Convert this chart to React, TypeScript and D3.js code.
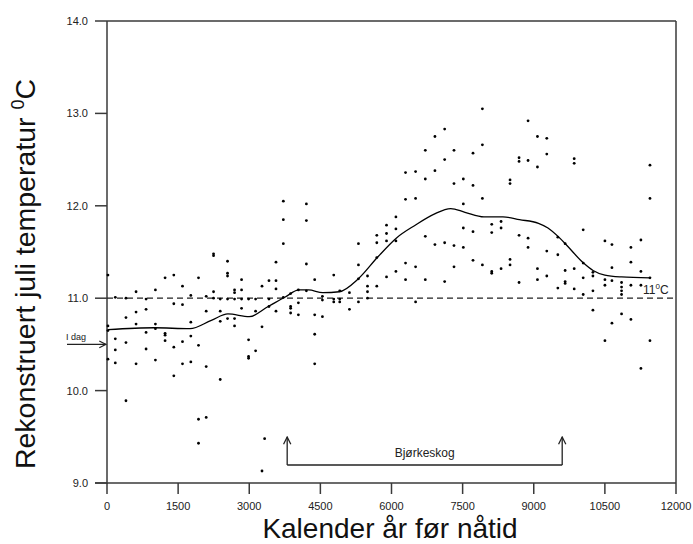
import * as d3 from 'd3';

const xTicks = [0, 1500, 3000, 4500, 6000, 7500, 9000, 10500, 12000];
const yTicks = [9, 10, 11, 12, 13, 14];

// sample columns: calendar year and reconstructed July temperatures at that level
const sampleYears = [
  20, 175, 400, 613, 824, 1021, 1225, 1409, 1592, 1768, 1930, 2092, 2247, 2388, 2542, 2690,
  2838, 2986, 3134, 3269, 3324, 3416, 3564, 3719, 3873, 4036, 4205, 4380, 4543, 4782, 4908,
  5113, 5303, 5494, 5690, 5895, 6093, 6296, 6508, 6713, 6916, 7121, 7318, 7515, 7719, 7917,
  8114, 8311, 8500, 8690, 8880, 9078, 9275, 9508, 9662, 9853, 10043, 10248, 10501, 10649,
  10852, 11049, 11260, 11451,
];
const sampleTemps = [
  [11.25, 10.7, 10.65, 10.34],
  [11.01, 10.56, 10.44, 10.3],
  [11.0, 10.79, 10.52, 9.89],
  [11.07, 10.85, 10.72, 10.29],
  [10.99, 10.88, 10.63, 10.45],
  [11.09, 10.72, 10.67, 10.33],
  [11.22, 10.62, 10.6, 10.54],
  [11.25, 10.94, 10.47, 10.16],
  [11.13, 10.93, 10.53, 10.29],
  [11.03, 10.74, 10.59, 10.31],
  [11.22, 10.49, 9.69, 9.43],
  [11.02, 10.86, 10.26, 9.71],
  [11.48, 11.46, 11.07, 11.0],
  [10.99, 10.86, 10.75, 10.12],
  [11.4, 11.27, 11.24, 10.99, 10.78],
  [11.09, 11.06, 10.99, 10.78, 10.7],
  [11.2, 11.09, 10.99, 10.89],
  [10.99, 10.55, 10.37, 10.35],
  [10.99, 10.86, 10.43],
  [11.13, 10.69, 9.13],
  [9.48],
  [11.19, 10.99, 10.91],
  [11.39, 11.19, 11.1, 10.86],
  [12.05, 11.85, 11.59, 11.01],
  [11.05, 10.91, 10.89, 10.84],
  [11.09, 10.95, 10.82],
  [12.02, 11.84, 11.37, 11.08],
  [11.2, 10.82, 10.61, 10.29],
  [11.02, 10.98, 10.8],
  [11.25, 10.99, 10.96],
  [11.08, 10.99, 10.96],
  [11.06, 10.88],
  [11.59, 11.36, 11.21, 10.96],
  [11.24, 11.13, 11.07, 11.0],
  [11.68, 11.6, 11.44, 11.13],
  [11.79, 11.7, 11.62, 11.23],
  [11.88, 11.75, 11.62, 11.29],
  [12.36, 12.07, 11.38, 11.2],
  [12.37, 12.08, 11.34, 10.96],
  [12.6, 12.29, 11.67, 11.2],
  [12.75, 12.38, 11.58],
  [12.83, 12.5, 11.6, 11.18],
  [12.6, 12.24, 11.57, 11.34],
  [12.29, 12.02, 11.76, 11.55],
  [12.57, 12.22, 11.72, 11.41],
  [13.05, 12.66, 12.08, 11.36],
  [11.8, 11.71, 11.29, 11.27],
  [11.83, 11.76, 11.32],
  [12.28, 12.24, 11.42, 11.36],
  [12.52, 12.48, 11.68, 11.17],
  [12.92, 12.49, 11.65, 11.55],
  [12.75, 12.42, 11.32, 11.2],
  [12.73, 12.56, 11.51, 11.24],
  [11.66, 11.47, 11.11],
  [11.59, 11.3, 11.18, 11.16],
  [12.51, 12.46, 11.32, 11.1],
  [11.74, 11.38, 11.22, 11.04],
  [11.28, 11.24, 11.08, 10.87],
  [11.62, 11.2, 11.14, 10.54],
  [11.58, 11.33, 11.19, 10.73],
  [11.17, 11.12, 11.08, 11.04, 10.83],
  [11.55, 11.39, 11.14, 10.77],
  [11.63, 11.29, 11.14, 10.24],
  [12.44, 12.08, 11.22, 10.54],
];

// smoothed curve
const curveYears = [
  20, 1000, 1750, 2200, 2550, 3000, 3400, 3750, 4050, 4250, 4550, 4900, 5300, 5700, 6100,
  6500, 6900, 7250, 7550, 7950, 8350, 8700, 9100, 9300, 9550, 9700, 10050, 10250, 10500,
  10850, 11450,
];
const curveTemps = [
  10.66, 10.68, 10.67, 10.76, 10.83, 10.8, 10.91, 11.01, 11.09, 11.09, 11.06, 11.07, 11.21,
  11.44, 11.65, 11.79, 11.91, 11.97, 11.93, 11.88, 11.88, 11.85, 11.81, 11.76, 11.65, 11.57,
  11.38, 11.3, 11.25, 11.23, 11.22,
];

const referenceTemp = 11;
const todayTemp = 10.5;
const birchStart = 3800;
const birchEnd = 9600;

const W = 693;
const H = 544;
const font = "'Liberation Sans', Arial, sans-serif";
const axisColor = '#3a3a3a';

export default function App() {
  const x = d3.scaleLinear().domain([0, 12000]).range([107, 676]);
  const y = d3.scaleLinear().domain([9, 14]).range([483, 21]);

  const line = d3
    .line<number>()
    .curve(d3.curveMonotoneX)
    .x(i => x(curveYears[i]))
    .y(i => y(curveTemps[i]));

  const points: [number, number][] = [];
  sampleYears.forEach((yr, i) => sampleTemps[i].forEach(t => points.push([yr, t])));

  const x0 = x(0);
  const x1 = x(12000);
  const yTop = y(14);
  const yBot = y(9);
  const bracketY = 465;
  const arrowTop = 437;

  return (
    <svg
      width={W}
      height={H}
      viewBox={`0 0 ${W} ${H}`}
      style={{ position: 'absolute', left: 0, top: 0, background: '#fff' }}
    >
      <defs>
        <marker id="arr" viewBox="0 0 10 10" refX="9" refY="5" markerWidth="7" markerHeight="7" orient="auto">
          <path d="M1,1 L9,5 L1,9" fill="none" stroke="#222" strokeWidth={1.4} />
        </marker>
      </defs>

      {/* frame */}
      <g stroke={axisColor} strokeWidth={1.5} fill="none">
        <line x1={x0} y1={yTop} x2={x1} y2={yTop} />
        <line x1={x1} y1={yTop} x2={x1} y2={yBot} />
        <line x1={x0 - 12} y1={yBot} x2={x1} y2={yBot} />
        <line x1={x0} y1={yTop} x2={x0} y2={yBot + 1} />
      </g>

      {/* y ticks */}
      {yTicks.map(t => (
        <g key={t}>
          <line x1={x0 - 12} x2={x0} y1={y(t)} y2={y(t)} stroke={axisColor} strokeWidth={1.5} />
          <text x={x0 - 19} y={y(t) + 4} textAnchor="end" fontFamily={font} fontSize={11} fill="#222">
            {t.toFixed(1)}
          </text>
        </g>
      ))}

      {/* x ticks */}
      {xTicks.map(t => (
        <g key={t}>
          <line x1={x(t)} x2={x(t)} y1={yBot} y2={yBot + 11} stroke={axisColor} strokeWidth={1.5} />
          <text x={x(t)} y={yBot + 27} textAnchor="middle" fontFamily={font} fontSize={11} fill="#222">
            {t}
          </text>
        </g>
      ))}

      {/* 11 C reference */}
      <line
        x1={x0}
        x2={x1}
        y1={y(referenceTemp)}
        y2={y(referenceTemp)}
        stroke="#222"
        strokeWidth={1.2}
        strokeDasharray="6,4"
      />
      <text x={643} y={y(referenceTemp) - 4} fontFamily={font} fontSize={12} fill="#222">
        11<tspan fontSize={8} dy={-5}>0</tspan>
        <tspan dy={5}>C</tspan>
      </text>

      {/* samples */}
      {points.map(([yr, t], i) => (
        <circle key={i} cx={x(yr)} cy={y(t)} r={1.4} fill="#000" />
      ))}

      {/* smoothed curve */}
      <path d={line(d3.range(curveYears.length)) ?? ''} fill="none" stroke="#000" strokeWidth={1.3} />

      {/* today */}
      <text x={66} y={y(todayTemp) - 4} fontFamily={font} fontSize={9} fill="#222">
        I dag
      </text>
      <line
        x1={67}
        x2={x0 - 1}
        y1={y(todayTemp)}
        y2={y(todayTemp)}
        stroke="#222"
        strokeWidth={1.2}
        markerEnd="url(#arr)"
      />

      {/* birch forest bracket */}
      <g stroke="#222" strokeWidth={1.3} fill="none">
        <line x1={x(birchStart)} x2={x(birchStart)} y1={bracketY} y2={arrowTop} markerEnd="url(#arr)" />
        <line x1={x(birchEnd)} x2={x(birchEnd)} y1={bracketY} y2={arrowTop} markerEnd="url(#arr)" />
        <line x1={x(birchStart)} x2={x(birchEnd)} y1={bracketY} y2={bracketY} />
      </g>
      <text
        x={(x(birchStart) + x(birchEnd)) / 2}
        y={457}
        textAnchor="middle"
        fontFamily={font}
        fontSize={12}
        fill="#222"
      >
        Bjørkeskog
      </text>

      {/* axis titles */}
      <text x={390} y={538} textAnchor="middle" fontFamily={font} fontSize={28} fill="#111">
        Kalender år før nåtid
      </text>
      <text
        transform={`translate(35, 274) rotate(-90)`}
        textAnchor="middle"
        fontFamily={font}
        fontSize={28.5}
        fill="#111"
      >
        Rekonstruert juli temperatur{'  '}
        <tspan fontSize={18} dy={-11}>0</tspan>
        <tspan dy={11}>C</tspan>
      </text>
    </svg>
  );
}
